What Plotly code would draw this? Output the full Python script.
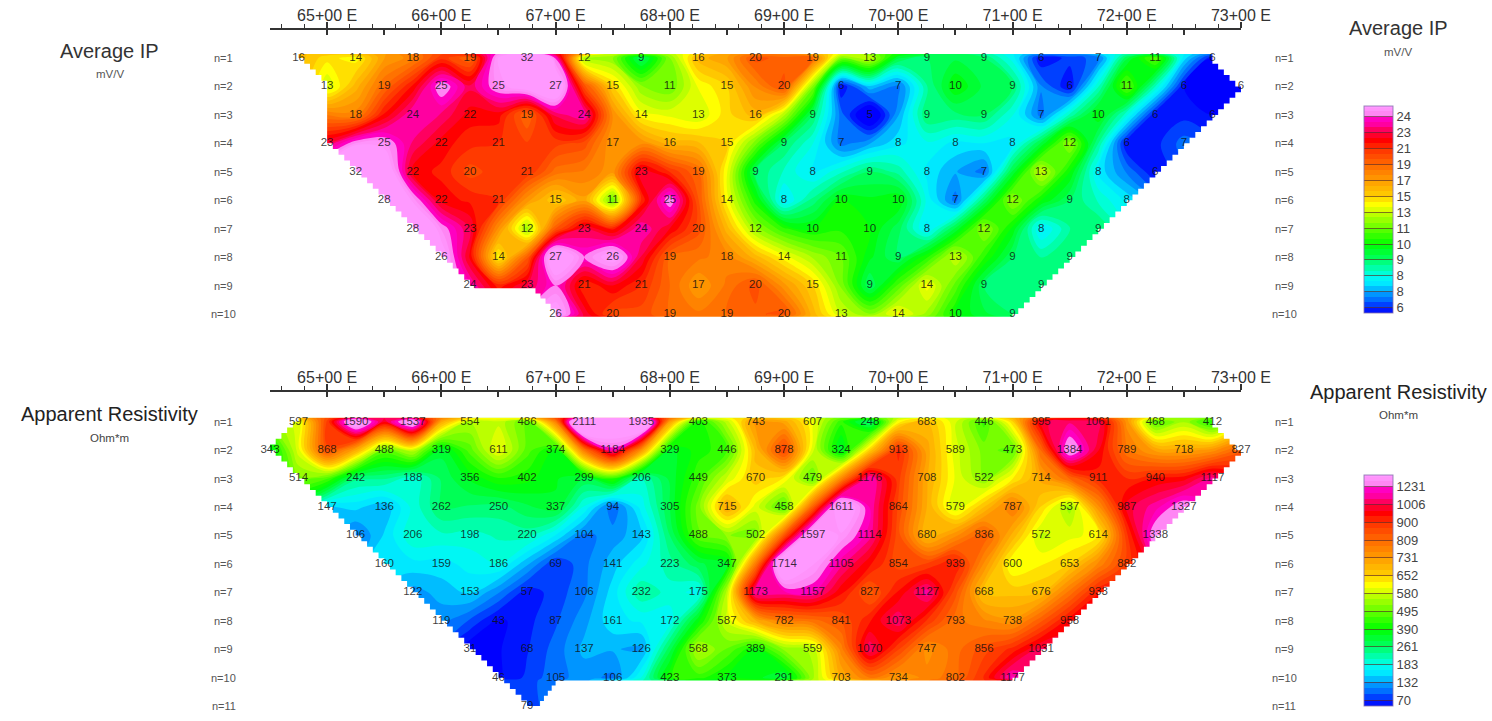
import numpy as np
import plotly.graph_objects as go

# readings per row, left to right every half station, None where no number is printed
ip_starts = [64.75, 65.0, 65.25, 65.0, 65.25, 65.5, 65.75, 66.0, 66.25, 67.0]
ip_n1 = [16, 14, 18, 19, 32, 12, 9, 16, 20, 19, 13, 9, 9, 6, 7, 11, 6]
ip_n2 = [13, 19, 25, 25, 27, 15, 11, 15, 20, 6, 7, 10, 9, 6, 11, 6, 6]
ip_n3 = [18, 24, 22, 19, 24, 14, 13, 16, 9, 5, 9, 9, 7, 10, 6, 6]
ip_n4 = [23, 25, 22, 21, None, 17, 16, 15, 9, 7, 8, 8, 8, 12, 6, 7]
ip_n5 = [32, 22, 20, 21, None, 23, 19, 9, 8, 9, 8, 7, 13, 8, 6]
ip_n6 = [28, 22, 21, 15, 11, 25, 14, 8, 10, 10, 7, 12, 9, 8]
ip_n7 = [28, 23, 12, 23, 24, 20, 12, 10, 10, 8, 12, 8, 9]
ip_n8 = [26, 14, 27, 26, 19, 18, 14, 11, 9, 13, 9, 9]
ip_n9 = [24, 23, 21, 21, 17, 20, 15, 9, 14, 9, 9]
ip_n10 = [26, 20, 19, 19, 20, 13, 14, 10, 9]
ip_rows = [ip_n1, ip_n2, ip_n3, ip_n4, ip_n5, ip_n6, ip_n7, ip_n8, ip_n9, ip_n10]

res_starts = [64.75, 64.5, 64.75, 65.0, 65.25, 65.5, 65.75, 66.0, 66.25, 66.5, 66.75]
res_n1 = [597, 1590, 1537, 554, 486, 2111, 1935, 403, 743, 607, 248, 683, 446, 995, 1061, 468, 412]
res_n2 = [343, 868, 488, 319, 611, 374, 1184, 329, 446, 878, 324, 913, 589, 473, 1384, 789, 718, 827]
res_n3 = [514, 242, 188, 356, 402, 299, 206, 449, 670, 479, 1176, 708, 522, 714, 911, 940, 1117]
res_n4 = [147, 136, 262, 250, 337, 94, 305, 715, 458, 1611, 864, 579, 787, 537, 987, 1327]
res_n5 = [106, 206, 198, 220, 104, 143, 488, 502, 1597, 1114, 680, 836, 572, 614, 1338]
res_n6 = [160, 159, 186, 69, 141, 223, 347, 1714, 1105, 854, 939, 600, 653, 882]
res_n7 = [122, 153, 57, 106, 232, 175, 1173, 1157, 827, 1127, 668, 676, 933]
res_n8 = [119, 43, 87, 161, 172, 587, 782, 841, 1073, 793, 738, 958]
res_n9 = [31, 68, 137, 126, 568, 389, 559, 1070, 747, 856, 1031]
res_n10 = [46, 105, 106, 423, 373, 291, 703, 734, 802, 1177]
res_n11 = [79]
res_rows = [res_n1, res_n2, res_n3, res_n4, res_n5, res_n6, res_n7, res_n8, res_n9, res_n10, res_n11]

# legend class breaks, low to high. Printed labels are rounded, so 8 appears twice
ip_breaks = [6.4, 7.6, 8.3, 9, 10, 11, 13, 15, 17, 19, 21, 23, 24.4]
ip_labels = ['6', '8', '8', '9', '10', '11', '13', '15', '17', '19', '21', '23', '24']
res_breaks = [70, 132, 183, 261, 390, 495, 580, 652, 731, 809, 900, 1006, 1231]
res_labels = ['70', '132', '183', '261', '390', '495', '580', '652', '731', '809', '900', '1006', '1231']

station_ticks = [65, 66, 67, 68, 69, 70, 71, 72, 73]
station_labels = ['65+00 E', '66+00 E', '67+00 E', '68+00 E', '69+00 E',
                  '70+00 E', '71+00 E', '72+00 E', '73+00 E']
half_ticks = [64.5 + 0.5 * i for i in range(18)]
small_ticks = [round(64.6 + 0.2 * i, 1) for i in range(42) if round((64.6 + 0.2 * i) % 1, 1) not in (0.0, 1.0)]

# colour against class index: below break 0 is deep blue, above the last break pale pink
Z_LO, Z_HI = -1 / 3, 12 + 2 / 3
band_index = [Z_LO, 0, 0.5, 1, 1.5, 2, 3, 4, 5, 6, 6.5, 7, 8, 9, 10, 10.5, 11, 11.5, 11.99, 12, Z_HI]
band_colors = ['#0000ff', '#0028ff', '#0070ff', '#00a8ff', '#00e8ff', '#00ffee', '#00ff66',
               '#00ff00', '#66ff00', '#ccff00', '#ffff00', '#ffd000', '#ff9c00', '#ff6a00',
               '#ff3000', '#ff0000', '#ff0040', '#ff00a0', '#ff00d0', '#ff80f0', '#ff99ff']
colorscale = [[(i - Z_LO) / (Z_HI - Z_LO), c] for i, c in zip(band_index, band_colors)]

W, H = 1492, 721
LEFT, RIGHT = 270, 1241
ROW_PX = 28.44
GRID_X = np.arange(64.5, 73.01, 0.25)
FILL_TOP, FILL_BOTTOM = 0.86, 10.1


def class_index(value, breaks):
    # contour levels have to be even, so values go through the uneven legend classes
    # outside the legend the last class width carries on, which keeps the highs broad
    if value < breaks[0]:
        return (value - breaks[0]) / (breaks[1] - breaks[0])
    if value > breaks[-1]:
        return 12 + (value - breaks[-1]) / (breaks[-1] - breaks[-2])
    return float(np.interp(value, breaks, range(13)))


def build_grid(rows, starts, breaks):
    ys = [FILL_TOP] + [n + 1.0 for n in range(10)] + [FILL_BOTTOM]
    if len(rows) > 10:
        ys.append(11.0)
    z = np.full((len(ys), len(GRID_X)), np.nan)
    for n, (row, start) in enumerate(zip(rows, starts), start=1):
        for k, v in enumerate(row):
            if v is not None:
                col = int(round((start + 0.5 * k - 64.5) / 0.25))
                z[ys.index(float(n)), col] = class_index(v, breaks)
    return ys, [[None if np.isnan(v) else float(v) for v in line] for line in z]


def stairs(points):
    # edge of the gridded section is stepped, about 5 px a step
    xs, ys = [points[0][0]], [points[0][1]]
    for (x0, y0), (x1, y1) in zip(points[:-1], points[1:]):
        if x0 == x1 or y0 == y1:
            xs.append(x1)
            ys.append(y1)
            continue
        steps = max(1, int(round(abs(y1 - y0) / 0.19)))
        for s in range(1, steps + 1):
            xs += [x0 + (x1 - x0) * s / steps, x0 + (x1 - x0) * s / steps]
            ys += [y0 + (y1 - y0) * (s - 1) / steps, y0 + (y1 - y0) * s / steps]
    return xs, ys


def outline(rows, starts, y_range):
    firsts = [s + 0.5 * next(i for i, v in enumerate(r) if v is not None) for r, s in zip(rows, starts)]
    lasts = [s + 0.5 * (len(r) - 1) for r, s in zip(rows, starts)]
    left = list(firsts)
    for i in range(1, len(firsts) - 1):
        left[i] = min(firsts[i], (firsts[i - 1] + firsts[i + 1]) / 2)

    pts = [(left[0] - 0.06, FILL_TOP)]
    for i, x in enumerate(left):
        n = i + 1
        if i > 0 and x - left[i - 1] > 0.5:
            pts.append((left[i - 1] + 0.04, n - 1 + 0.1))
            pts.append((x - 0.22, n - 1 + 0.1))
        pts.append((x, n))
    if len(rows) > 10:
        pts.append((left[-1] + 0.08, 11))
        pts.append((starts[9] + 0.5, FILL_BOTTOM))
        pts.append((lasts[9], FILL_BOTTOM))
        back = lasts[:10]
    else:
        pts.append((left[-1], FILL_BOTTOM))
        pts.append((lasts[-1], FILL_BOTTOM))
        back = lasts
    for i in range(len(back) - 1, -1, -1):
        pts.append((back[i], i + 1))
    pts.append((back[0], FILL_TOP))
    pts.append((pts[0][0], FILL_TOP))
    xs, ys = stairs(pts)

    # white ring around the section, everything outside the readings is blank
    # the inner loop has to run the opposite way round to the outer one
    x0, x1 = 64.4, 73.1
    y0, y1 = y_range[0] - 1, y_range[1] + 1
    ring_x = [x0, x1, x1, x0, x0, xs[0]] + xs + [xs[0], x0]
    ring_y = [y0, y0, y1, y1, y0, FILL_TOP] + ys + [FILL_TOP, y0]
    return ring_x, ring_y


def add_section(fig, rows, starts, breaks, labels, axes, y_range, bar_top, bar_len):
    xa, xb, ya = axes
    ys, z = build_grid(rows, starts, breaks)
    fig.add_trace(go.Contour(
        x=GRID_X, y=ys, z=z, xaxis=xa, yaxis=ya, connectgaps=True,
        colorscale=colorscale, zmin=Z_LO, zmax=Z_HI, zauto=False,
        autocontour=False,
        contours=dict(coloring='fill', start=Z_LO, end=Z_HI, size=1 / 3, showlines=False),
        line=dict(width=0, smoothing=1.0),
        hoverinfo='skip',
        colorbar=dict(
            x=1363.5 / W, xanchor='left', xpad=0, ypad=0,
            y=1 - bar_top / H, yanchor='top',
            lenmode='pixels', len=bar_len, thicknessmode='pixels', thickness=29,
            tickmode='array', tickvals=list(range(13)), ticktext=labels,
            tickprefix='\u00a0\u00a0\u00a0',
            ticks='inside', ticklen=29, tickcolor='rgba(90,40,40,0.65)', tickwidth=1,
            tickfont=dict(family='Liberation Sans', size=13, color='#444'),
            outlinecolor='rgba(130,110,170,0.8)', outlinewidth=1, borderwidth=0,
        ),
    ))
    ring_x, ring_y = outline(rows, starts, y_range)
    fig.add_trace(go.Scatter(x=ring_x, y=ring_y, xaxis=xa, yaxis=ya, mode='lines',
                             line=dict(width=0, color='white'), fill='toself',
                             fillcolor='white', hoverinfo='skip', showlegend=False))

    tx, ty, tt = [], [], []
    for n, (row, start) in enumerate(zip(rows, starts), start=1):
        for k, v in enumerate(row):
            if v is not None:
                tx.append(start + 0.5 * k)
                ty.append(n)
                tt.append(str(v))
    fig.add_trace(go.Scatter(x=tx, y=ty, text=tt, xaxis=xb, yaxis=ya, mode='text',
                             textposition='middle center', cliponaxis=False,
                             textfont=dict(family='Liberation Sans', size=11.5, color='rgba(15,15,15,0.82)'),
                             hoverinfo='skip', showlegend=False))


def axis_pair(domain_x, anchor, y_label_over):
    main = dict(domain=domain_x, range=[64.5, 73], anchor=anchor, side='top', showgrid=False,
                zeroline=False, showline=True, linecolor='#333', linewidth=1.5,
                tickmode='array', tickvals=station_ticks, ticktext=station_labels,
                ticks='outside', ticklen=6, tickwidth=1.5, tickcolor='#333', ticklabelstandoff=-5,
                tickfont=dict(family='Liberation Sans', size=16, color='#333'),
                minor=dict(tickmode='array', tickvals=small_ticks, ticks='outside',
                           ticklen=4, tickwidth=1, tickcolor='#333'))
    over = dict(domain=domain_x, range=[64.5, 73], anchor=anchor, side='top', overlaying=y_label_over,
                showgrid=False, zeroline=False, showline=False, showticklabels=False,
                tickmode='array', tickvals=half_ticks, ticks='inside', ticklen=5,
                tickwidth=1.5, tickcolor='#333')
    return main, over


def y_axis(top_px, bottom_px, first_row_px):
    lo = 1 + (top_px - first_row_px) / ROW_PX
    hi = 1 + (bottom_px - first_row_px) / ROW_PX
    return dict(domain=[1 - bottom_px / H, 1 - top_px / H], range=[hi, lo], visible=False,
                showgrid=False, zeroline=False), (lo, hi)


fig = go.Figure()
yaxis1, y1_range = y_axis(30, 325, 58)
yaxis2, y2_range = y_axis(392, 715, 421.7)
add_section(fig, ip_rows, ip_starts, ip_breaks, ip_labels, ('x', 'x3', 'y'), y1_range, 106, 207)
add_section(fig, res_rows, res_starts, res_breaks, res_labels, ('x2', 'x4', 'y2'), y2_range, 475, 231)

dom = [LEFT / W, RIGHT / W]
x1_main, x1_over = axis_pair(dom, 'y', 'x')
x2_main, x2_over = axis_pair(dom, 'y2', 'x2')

notes = []


def note(text, px, py, size, color='#333'):
    notes.append(dict(text=text, x=px / W, y=1 - py / H, xref='paper', yref='paper',
                      xanchor='center', yanchor='middle', showarrow=False,
                      font=dict(family='Liberation Sans', size=size, color=color)))


note('Average IP', 110, 51, 20)
note('mV/V', 110, 74, 11.5, '#555')
note('Average IP', 1398, 28, 20)
note('mV/V', 1398, 52, 11.5, '#555')
note('Apparent Resistivity', 110, 414, 20, '#222')
note('Ohm*m', 110, 438, 11.5, '#444')
note('Apparent Resistivity', 1398, 392, 20, '#222')
note('Ohm*m', 1398, 415, 11.5, '#444')
for panel_rows, first_px in ((10, 58), (11, 421.7)):
    for n in range(1, panel_rows + 1):
        py = first_px + ROW_PX * (n - 1)
        note('n=%d' % n, 224, py, 11, '#555')
        note('n=%d' % n, 1284, py, 11, '#555')

fig.update_layout(
    width=W, height=H, margin=dict(l=0, r=0, t=0, b=0, autoexpand=False),
    paper_bgcolor='white', plot_bgcolor='white', showlegend=False,
    xaxis=x1_main, xaxis2=x2_main, xaxis3=x1_over, xaxis4=x2_over,
    yaxis=yaxis1, yaxis2=yaxis2, annotations=notes,
)
fig.write_html("out.html", config=dict(displayModeBar=False),
               post_script="document.body.style.margin='0';")
